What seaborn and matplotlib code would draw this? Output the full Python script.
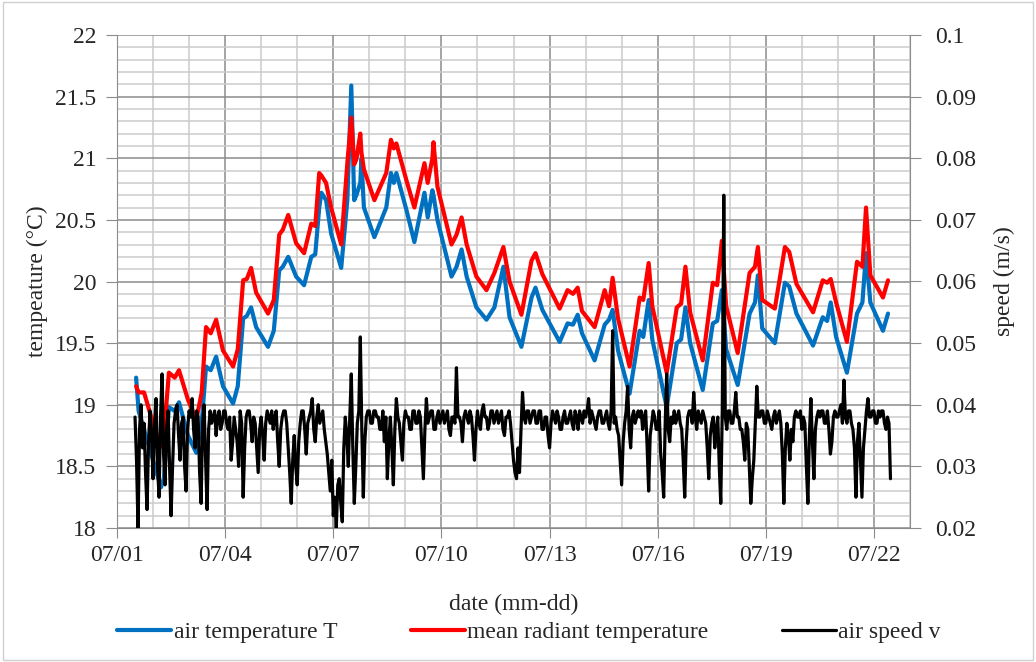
import numpy as np
import pandas as pd
import matplotlib
matplotlib.use('Agg')
import matplotlib.pyplot as plt
import matplotlib.dates as mdates
from matplotlib.ticker import MultipleLocator, FuncFormatter
import seaborn as sns

# --- data ---
# time in days since 07/01 00:00 for the two temperature series
temp_days = [0.53, 0.6, 0.75, 0.9, 1.05, 1.22, 1.3, 1.44, 1.6, 1.72, 1.97, 2.2, 2.35, 2.47, 2.6,
             2.75, 2.94, 3.22, 3.35, 3.5, 3.6, 3.72, 3.86, 4.19, 4.35, 4.5, 4.6, 4.75, 4.97, 5.19,
             5.39, 5.5, 5.61, 5.67, 5.8, 5.94, 6.22, 6.39, 6.5, 6.58, 6.64, 6.75, 6.78, 6.85, 7.14,
             7.47, 7.6, 7.68, 7.75, 8.03, 8.25, 8.53, 8.62, 8.75, 8.78, 8.89, 9.28, 9.42, 9.56, 9.7,
             9.97, 10.25, 10.47, 10.72, 10.89, 11.22, 11.5, 11.61, 11.8, 12.28, 12.5, 12.65, 12.78, 12.9, 13.25,
             13.53, 13.65, 13.75, 13.9, 14.22, 14.5, 14.6, 14.75, 14.85, 15.25, 15.53, 15.65, 15.77, 15.9, 16.25,
             16.53, 16.65, 16.78, 16.9, 17.22, 17.55, 17.7, 17.78, 17.9, 18.25, 18.53, 18.65, 18.85, 19.31, 19.58,
             19.7, 19.8, 19.95, 20.25, 20.53, 20.68, 20.78, 20.9, 21.25, 21.39]

air_temp = [19.22, 18.95, 18.80, 18.65, 18.50, 18.33, 18.40, 18.98, 18.95, 19.02, 18.75, 18.61, 18.85, 19.31, 19.28,
            19.39, 19.15, 19.01, 19.15, 19.70, 19.72, 19.79, 19.63, 19.47, 19.60, 20.09, 20.12, 20.20, 20.04, 19.97,
            20.20, 20.22, 20.60, 20.72, 20.66, 20.39, 20.11, 20.66, 21.59, 20.66, 20.70, 20.80, 20.99, 20.60, 20.36,
            20.60, 20.88, 20.80, 20.88, 20.58, 20.32, 20.72, 20.52, 20.74, 20.70, 20.50, 20.04, 20.12, 20.26, 20.04,
            19.79, 19.69, 19.79, 20.12, 19.71, 19.47, 19.87, 19.95, 19.77, 19.51, 19.66, 19.65, 19.73, 19.58, 19.36,
            19.65, 19.69, 19.77, 19.44, 19.09, 19.60, 19.55, 19.85, 19.53, 18.98, 19.50, 19.53, 19.79, 19.50, 19.12,
            19.66, 19.68, 19.93, 19.45, 19.16, 19.74, 19.83, 20.05, 19.62, 19.50, 19.99, 19.96, 19.74, 19.48, 19.71,
            19.68, 19.83, 19.55, 19.26, 19.74, 19.83, 20.23, 19.83, 19.60, 19.74]

radiant_temp = [19.15, 19.10, 19.10, 18.95, 18.80, 18.66, 18.75, 19.26, 19.22, 19.28, 19.04, 18.88, 19.10, 19.63, 19.58,
                19.69, 19.44, 19.31, 19.45, 20.01, 20.02, 20.11, 19.91, 19.74, 19.85, 20.38, 20.42, 20.54, 20.31, 20.23,
                20.47, 20.45, 20.88, 20.86, 20.80, 20.60, 20.30, 20.96, 21.33, 20.95, 20.99, 21.20, 21.05, 20.91, 20.66,
                20.88, 21.15, 21.08, 21.12, 20.82, 20.60, 20.96, 20.80, 21.00, 21.13, 20.77, 20.30, 20.38, 20.52, 20.30,
                20.04, 19.93, 20.07, 20.28, 20.00, 19.73, 20.17, 20.23, 20.06, 19.78, 19.93, 19.90, 19.95, 19.76, 19.63,
                19.93, 19.80, 20.03, 19.70, 19.31, 19.87, 19.85, 20.15, 19.80, 19.26, 19.79, 19.82, 20.12, 19.75, 19.36,
                19.99, 19.97, 20.33, 19.80, 19.42, 20.07, 20.12, 20.28, 19.85, 19.78, 20.28, 20.24, 19.98, 19.75, 20.01,
                19.99, 20.02, 19.83, 19.51, 20.16, 20.12, 20.60, 20.05, 19.87, 20.01]

# air speed, hourly values starting 07/01 12:00 (one row per day)
speed_start_day = 0.5
air_speed = [
    0.038, 0.031, 0.020, 0.036, 0.040, 0.033, 0.037, 0.029, 0.023, 0.034, 0.039, 0.035,
    0.028, 0.037, 0.041, 0.030, 0.025, 0.038, 0.045, 0.032, 0.027, 0.036, 0.039, 0.030,
    0.022, 0.030, 0.037, 0.039, 0.040, 0.035, 0.031, 0.037, 0.038, 0.030, 0.026, 0.036,
    0.039, 0.038, 0.041, 0.036, 0.033, 0.039, 0.038, 0.029, 0.024, 0.037, 0.040, 0.031,
    0.023, 0.036, 0.039, 0.037, 0.038, 0.039, 0.035, 0.038, 0.039, 0.036, 0.037, 0.039,
    0.039, 0.037, 0.036, 0.038, 0.031, 0.034, 0.038, 0.036, 0.034, 0.030, 0.039, 0.037,
    0.025, 0.033, 0.038, 0.039, 0.039, 0.037, 0.034, 0.038, 0.037, 0.033, 0.029, 0.036,
    0.038, 0.035, 0.031, 0.037, 0.039, 0.038, 0.037, 0.039, 0.036, 0.038, 0.039, 0.034,
    0.030, 0.036, 0.038, 0.039, 0.039, 0.037, 0.033, 0.029, 0.024, 0.031, 0.035, 0.030,
    0.027, 0.034, 0.037, 0.039, 0.039, 0.036, 0.032, 0.037, 0.038, 0.039, 0.041, 0.036,
    0.034, 0.038, 0.040, 0.037, 0.038, 0.039, 0.036, 0.034, 0.032, 0.029, 0.026, 0.031,
    0.022, 0.025, 0.020, 0.027, 0.028, 0.024, 0.021, 0.033, 0.038, 0.035, 0.030, 0.038,
    0.045, 0.033, 0.024, 0.030, 0.037, 0.039, 0.051, 0.036, 0.025, 0.034, 0.038, 0.039,
    0.039, 0.037, 0.037, 0.039, 0.039, 0.038, 0.038, 0.036, 0.036, 0.039, 0.034, 0.038,
    0.028, 0.034, 0.038, 0.033, 0.027, 0.036, 0.041, 0.038, 0.037, 0.034, 0.031, 0.037,
    0.039, 0.038, 0.038, 0.036, 0.036, 0.039, 0.039, 0.037, 0.037, 0.039, 0.038, 0.033,
    0.028, 0.036, 0.041, 0.037, 0.038, 0.039, 0.039, 0.036, 0.036, 0.038, 0.039, 0.037,
    0.038, 0.039, 0.037, 0.038, 0.039, 0.036, 0.035, 0.038, 0.038, 0.037, 0.046, 0.038,
    0.038, 0.037, 0.034, 0.038, 0.039, 0.038, 0.037, 0.039, 0.038, 0.035, 0.031, 0.036,
    0.039, 0.037, 0.036, 0.039, 0.040, 0.038, 0.038, 0.036, 0.037, 0.039, 0.039, 0.037,
    0.038, 0.039, 0.037, 0.038, 0.039, 0.036, 0.035, 0.038, 0.038, 0.039, 0.037, 0.034,
    0.031, 0.029, 0.028, 0.033, 0.029, 0.036, 0.042, 0.038, 0.037, 0.039, 0.039, 0.037,
    0.038, 0.039, 0.039, 0.037, 0.037, 0.039, 0.039, 0.036, 0.036, 0.038, 0.038, 0.035,
    0.033, 0.037, 0.039, 0.038, 0.037, 0.039, 0.038, 0.036, 0.036, 0.038, 0.039, 0.037,
    0.037, 0.038, 0.039, 0.037, 0.036, 0.039, 0.038, 0.036, 0.039, 0.038, 0.037, 0.039,
    0.038, 0.039, 0.041, 0.037, 0.039, 0.038, 0.037, 0.036, 0.038, 0.039, 0.039, 0.037,
    0.037, 0.038, 0.039, 0.037, 0.036, 0.039, 0.052, 0.037, 0.038, 0.036, 0.035, 0.031,
    0.027, 0.034, 0.037, 0.039, 0.043, 0.036, 0.033, 0.038, 0.039, 0.037, 0.038, 0.039,
    0.038, 0.039, 0.036, 0.038, 0.039, 0.033, 0.026, 0.035, 0.037, 0.039, 0.038, 0.036,
    0.036, 0.039, 0.032, 0.029, 0.025, 0.037, 0.045, 0.036, 0.034, 0.038, 0.037, 0.039,
    0.037, 0.038, 0.039, 0.037, 0.036, 0.031, 0.025, 0.034, 0.038, 0.039, 0.039, 0.037,
    0.042, 0.038, 0.036, 0.039, 0.038, 0.037, 0.039, 0.038, 0.037, 0.033, 0.028, 0.035,
    0.037, 0.038, 0.033, 0.036, 0.038, 0.030, 0.024, 0.039, 0.074, 0.038, 0.036, 0.039,
    0.039, 0.037, 0.037, 0.039, 0.042, 0.038, 0.038, 0.036, 0.036, 0.034, 0.031, 0.037,
    0.036, 0.030, 0.024, 0.028, 0.031, 0.037, 0.043, 0.038, 0.038, 0.039, 0.039, 0.037,
    0.037, 0.039, 0.038, 0.037, 0.036, 0.038, 0.039, 0.037, 0.038, 0.039, 0.037, 0.032,
    0.024, 0.033, 0.037, 0.035, 0.031, 0.036, 0.034, 0.038, 0.039, 0.038, 0.038, 0.039,
    0.036, 0.038, 0.037, 0.030, 0.024, 0.035, 0.041, 0.034, 0.028, 0.036, 0.038, 0.039,
    0.038, 0.039, 0.039, 0.037, 0.037, 0.039, 0.036, 0.032, 0.034, 0.038, 0.039, 0.038,
    0.038, 0.039, 0.040, 0.037, 0.044, 0.038, 0.037, 0.039, 0.039, 0.037, 0.036, 0.033,
    0.025, 0.034, 0.037, 0.031, 0.025, 0.033, 0.036, 0.039, 0.041, 0.038, 0.038, 0.039,
    0.039, 0.037, 0.037, 0.039, 0.038, 0.039, 0.039, 0.037, 0.036, 0.038, 0.037, 0.028,
]

series_labels = ["air temperature T", "mean radiant temperature", "air speed v"]
series_colors = ["#0070C0", "#FF0000", "black"]

start = pd.Timestamp("2019-07-01")
t_temp = start + pd.to_timedelta(temp_days, unit="D")
t_speed = start + pd.to_timedelta(speed_start_day + np.arange(len(air_speed)) / 24.0, unit="D")

# --- figure ---
sns.set_style("white")
plt.rcParams['font.family'] = ['Liberation Serif', 'DejaVu Serif']
fs = 17

fig = plt.figure(figsize=(10.36, 6.62), dpi=100)
ax = fig.add_axes([117 / 1036, 1 - 528 / 662, (910 - 117) / 1036, (528 - 35) / 662])
ax2 = ax.twinx()

sns.lineplot(x=t_temp, y=air_temp, ax=ax, color=series_colors[0], lw=3.0, label=series_labels[0], legend=False)
sns.lineplot(x=t_temp, y=radiant_temp, ax=ax, color=series_colors[1], lw=3.0, label=series_labels[1], legend=False)
sns.lineplot(x=t_speed, y=air_speed, ax=ax2, color=series_colors[2], lw=2.3, label=series_labels[2], legend=False)

ax.set_xlim(start, start + pd.Timedelta(days=22))
ax.set_ylim(18, 22)
ax2.set_ylim(0.02, 0.1)

ax.xaxis.set_major_locator(mdates.DayLocator(bymonthday=[1, 4, 7, 10, 13, 16, 19, 22]))
ax.xaxis.set_minor_locator(mdates.DayLocator())
ax.xaxis.set_major_formatter(mdates.DateFormatter('%m/%d'))
ax.yaxis.set_major_locator(MultipleLocator(0.5))
ax.yaxis.set_minor_locator(MultipleLocator(0.1))
ax.yaxis.set_major_formatter(FuncFormatter(lambda v, p: f"{v:g}"))
ax2.yaxis.set_major_locator(MultipleLocator(0.01))
ax2.yaxis.set_major_formatter(FuncFormatter(lambda v, p: f"{round(v, 3):g}"))

ax.grid(which='major', color='#8c8c8c', lw=1.1)
ax.grid(which='minor', color='#cccccc', lw=1.1)
ax.set_axisbelow(True)

for a in (ax, ax2):
    for s in a.spines.values():
        s.set_visible(False)
ax.spines['left'].set_visible(True)
ax.spines['left'].set_color('#8c8c8c')
ax.spines['bottom'].set_visible(True)
ax.spines['bottom'].set_color('#8c8c8c')
ax2.spines['right'].set_visible(True)
ax2.spines['right'].set_color('#8c8c8c')

ax.tick_params(axis='y', which='major', direction='out', length=8, color='#8c8c8c', pad=7, labelsize=fs, left=True)
ax.tick_params(axis='y', which='minor', left=False)
ax.tick_params(axis='x', which='major', direction='out', length=7, color='#8c8c8c', pad=5, labelsize=fs, bottom=True)
ax.tick_params(axis='x', which='minor', bottom=False)
ax2.tick_params(axis='y', direction='out', length=8, color='#8c8c8c', pad=10, labelsize=fs, right=True)

ax.set_xlabel("date (mm-dd)", fontsize=fs, labelpad=20)
ax.set_ylabel("tempeature (°C)", fontsize=fs, labelpad=5)
ax2.set_ylabel("speed (m/s)", fontsize=fs, labelpad=13)

handles = ax.get_lines()[:2] + ax2.get_lines()[:1]
fig.legend(handles, series_labels, loc='center', bbox_to_anchor=(529 / 1036, 1 - 632 / 662), ncol=3,
           frameon=False, handlelength=2.3, handletextpad=0.1, columnspacing=3.1, fontsize=fs)

# chart area border
fig.patches.append(plt.Rectangle((0.003, 0.003), 0.994, 0.994, transform=fig.transFigure,
                                 fill=False, edgecolor='#d0d0d0', lw=1))

fig.savefig("out.png", dpi=100)
plt.close('all')
